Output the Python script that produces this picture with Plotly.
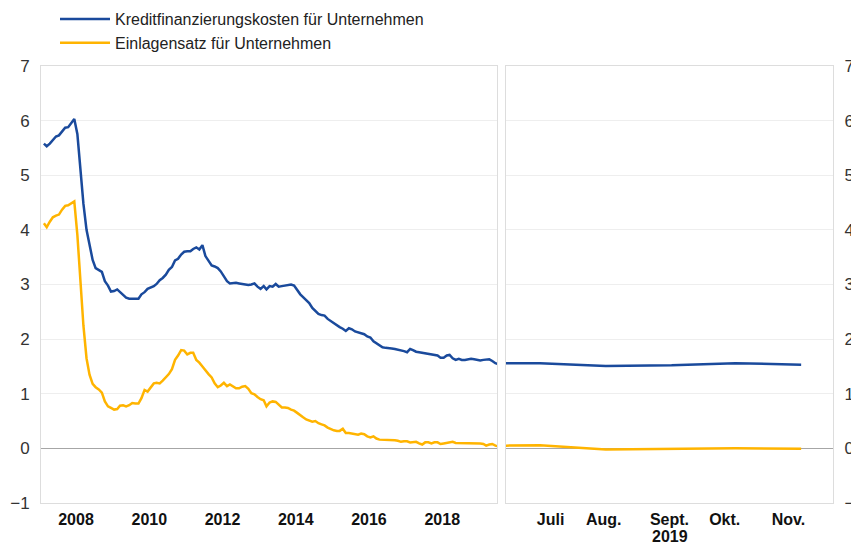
import pandas as pd
import plotly.graph_objects as go

# ---- data -------------------------------------------------------------
series_names = ["Kreditfinanzierungskosten für Unternehmen", "Einlagensatz für Unternehmen"]

# monthly, Jan 2007 .. Jun 2019
monthly_dates = pd.date_range("2007-01-15", periods=150, freq="MS") + pd.Timedelta(days=14)

kredit = [
    5.58, 5.53, 5.58, 5.65, 5.71, 5.73, 5.80, 5.87, 5.88, 5.96, 6.03, 5.75,
    5.05, 4.48, 4.00, 3.70, 3.45, 3.30, 3.26, 3.23, 3.06, 2.98, 2.87, 2.88,
    2.91, 2.86, 2.80, 2.76, 2.74, 2.74, 2.74, 2.74, 2.82, 2.86, 2.92, 2.94,
    2.97, 3.01, 3.08, 3.12, 3.18, 3.27, 3.32, 3.44, 3.47, 3.55, 3.60, 3.61,
    3.61, 3.65, 3.68, 3.64, 3.72, 3.52, 3.43, 3.35, 3.33, 3.30, 3.24, 3.15,
    3.06, 3.02, 3.03, 3.03, 3.02, 3.01, 3.00, 2.99, 3.00, 3.02, 2.96, 2.92,
    2.97, 2.91, 2.97, 2.96, 3.01, 2.96, 2.97, 2.98, 2.99, 3.00, 2.98, 2.89,
    2.82, 2.77, 2.71, 2.66, 2.57, 2.52, 2.46, 2.44, 2.43, 2.37, 2.33, 2.29,
    2.25, 2.22, 2.19, 2.15, 2.20, 2.18, 2.14, 2.12, 2.10, 2.09, 2.05, 2.03,
    1.96, 1.92, 1.88, 1.85, 1.84, 1.84, 1.83, 1.82, 1.81, 1.79, 1.78, 1.76,
    1.82, 1.80, 1.77, 1.76, 1.75, 1.75, 1.74, 1.73, 1.72, 1.70, 1.66, 1.66,
    1.70, 1.71, 1.65, 1.62, 1.64, 1.62, 1.62, 1.63, 1.64, 1.63, 1.62, 1.61,
    1.62, 1.63, 1.63, 1.60, 1.56, 1.54,
]

einlage = [
    4.12, 4.05, 4.15, 4.23, 4.26, 4.28, 4.37, 4.44, 4.45, 4.48, 4.52, 3.90,
    3.05, 2.25, 1.65, 1.35, 1.18, 1.12, 1.08, 1.02, 0.86, 0.77, 0.74, 0.71,
    0.72, 0.78, 0.79, 0.77, 0.79, 0.83, 0.82, 0.82, 0.92, 1.07, 1.04, 1.12,
    1.19, 1.20, 1.19, 1.24, 1.30, 1.36, 1.45, 1.62, 1.70, 1.80, 1.79, 1.72,
    1.75, 1.75, 1.62, 1.57, 1.50, 1.42, 1.36, 1.30, 1.19, 1.12, 1.15, 1.20,
    1.14, 1.17, 1.13, 1.10, 1.10, 1.13, 1.14, 1.09, 1.01, 0.99, 0.94, 0.90,
    0.88, 0.77, 0.84, 0.86, 0.85, 0.80, 0.75, 0.75, 0.74, 0.71, 0.69, 0.65,
    0.60, 0.57, 0.53, 0.51, 0.49, 0.50, 0.46, 0.44, 0.42, 0.38, 0.35, 0.33,
    0.32, 0.32, 0.36, 0.28, 0.28, 0.27, 0.25, 0.25, 0.27, 0.26, 0.22, 0.20,
    0.22, 0.18, 0.16, 0.16, 0.16, 0.15, 0.15, 0.15, 0.14, 0.12, 0.13, 0.13,
    0.11, 0.11, 0.12, 0.09, 0.07, 0.11, 0.11, 0.09, 0.11, 0.11, 0.08, 0.09,
    0.10, 0.11, 0.12, 0.10, 0.10, 0.10, 0.10, 0.10, 0.10, 0.09, 0.09, 0.09,
    0.08, 0.05, 0.07, 0.08, 0.05, 0.04,
]

# recent months 2019
recent_dates = ["2019-06-15", "2019-07-01", "2019-08-01", "2019-09-01", "2019-10-01", "2019-11-01"]
kredit_recent = [1.56, 1.56, 1.51, 1.52, 1.56, 1.53]
einlage_recent = [0.05, 0.055, -0.02, -0.01, 0.0, -0.005]

year_ticks = ["2008-01-01", "2010-01-01", "2012-01-01", "2014-01-01", "2016-01-01", "2018-01-01"]
year_labels = ["2008", "2010", "2012", "2014", "2016", "2018"]
month_labels = ["Juli", "Aug.", "Sept.", "Okt.", "Nov."]
year_note = "2019"
y_ticks = [-1, 0, 1, 2, 3, 4, 5, 6, 7]

# ---- styling / layout ---------------------------------------------------
BLUE = "#1a4a9c"
YELLOW = "#ffb400"
FONT = "Liberation Sans, Arial, sans-serif"
GRID = "#eeeeee"
FRAME = "#dddddd"
# where the month labels sit under the right panel
month_label_pos = ["2019-07-06", "2019-07-31", "2019-08-31", "2019-09-26", "2019-10-26"]

fig = go.Figure()
fig.add_trace(go.Scatter(x=monthly_dates, y=kredit, mode="lines", name=series_names[0],
                         line=dict(color=BLUE, width=2.5), xaxis="x", yaxis="y"))
fig.add_trace(go.Scatter(x=monthly_dates, y=einlage, mode="lines", name=series_names[1],
                         line=dict(color=YELLOW, width=2.5), xaxis="x", yaxis="y"))
fig.add_trace(go.Scatter(x=recent_dates, y=kredit_recent, mode="lines", showlegend=False,
                         line=dict(color=BLUE, width=2.5), xaxis="x2", yaxis="y2"))
fig.add_trace(go.Scatter(x=recent_dates, y=einlage_recent, mode="lines", showlegend=False,
                         line=dict(color=YELLOW, width=2.5), xaxis="x2", yaxis="y2"))

# page has an 8px body margin: figure is drawn 8px in from the window edge
OFF = 8
W, H = 859 - OFF, 544 - OFF
left_dom = [(41 - OFF) / W, (497 - OFF) / W]
right_dom = [(506 - OFF) / W, (833 - OFF) / W]
y_dom = [(H - (503 - OFF)) / H, (H - (66 - OFF)) / H]

axis_common = dict(showline=True, mirror=True, linecolor=FRAME, linewidth=1, automargin=False)
xfont = dict(size=16, family=FONT, color="#111111", weight="bold")
yfont = dict(size=17, family=FONT, color="#333333")

fig.update_layout(
    width=W, height=H,
    margin=dict(l=0, r=0, t=0, b=0, autoexpand=False),
    paper_bgcolor="white", plot_bgcolor="white",
    font=dict(family=FONT, color="#222222"),
    showlegend=True,
    legend=dict(x=(55 - OFF) / W, y=1 + 6 / H, xanchor="left", yanchor="top",
                font=dict(size=16, family=FONT, color="#222222"),
                itemwidth=50, bgcolor="rgba(0,0,0,0)", tracegroupgap=0),
    xaxis=dict(domain=left_dom, type="date", range=["2007-01-17", "2019-07-01"],
               tickvals=year_ticks, ticktext=year_labels, showgrid=False,
               tickfont=xfont, ticks="", ticklabelstandoff=2, anchor="y", **axis_common),
    yaxis=dict(domain=y_dom, range=[-1, 7], tickvals=y_ticks, showgrid=True, gridcolor=GRID,
               zeroline=True, zerolinecolor="#a6a6a6", zerolinewidth=1,
               tickfont=yfont, ticks="", ticklabelstandoff=7, anchor="x", **axis_common),
    xaxis2=dict(domain=right_dom, type="date", range=["2019-06-15", "2019-11-16"],
                tickvals=month_label_pos, ticktext=month_labels, showgrid=False,
                tickfont=xfont, ticks="", ticklabelstandoff=2, anchor="y2", **axis_common),
    yaxis2=dict(domain=y_dom, range=[-1, 7], tickvals=y_ticks, showgrid=True, gridcolor=GRID,
                zeroline=True, zerolinecolor="#a6a6a6", zerolinewidth=1, side="right",
                tickfont=yfont, ticks="", ticklabelstandoff=7, anchor="x2", **axis_common),
    annotations=[dict(text=year_note, x=month_label_pos[2], xref="x2", yref="paper",
                      y=(H - (536.5 - OFF)) / H, yanchor="middle", showarrow=False,
                      borderpad=0, font=xfont)],
)

fig.write_html("out.html")
